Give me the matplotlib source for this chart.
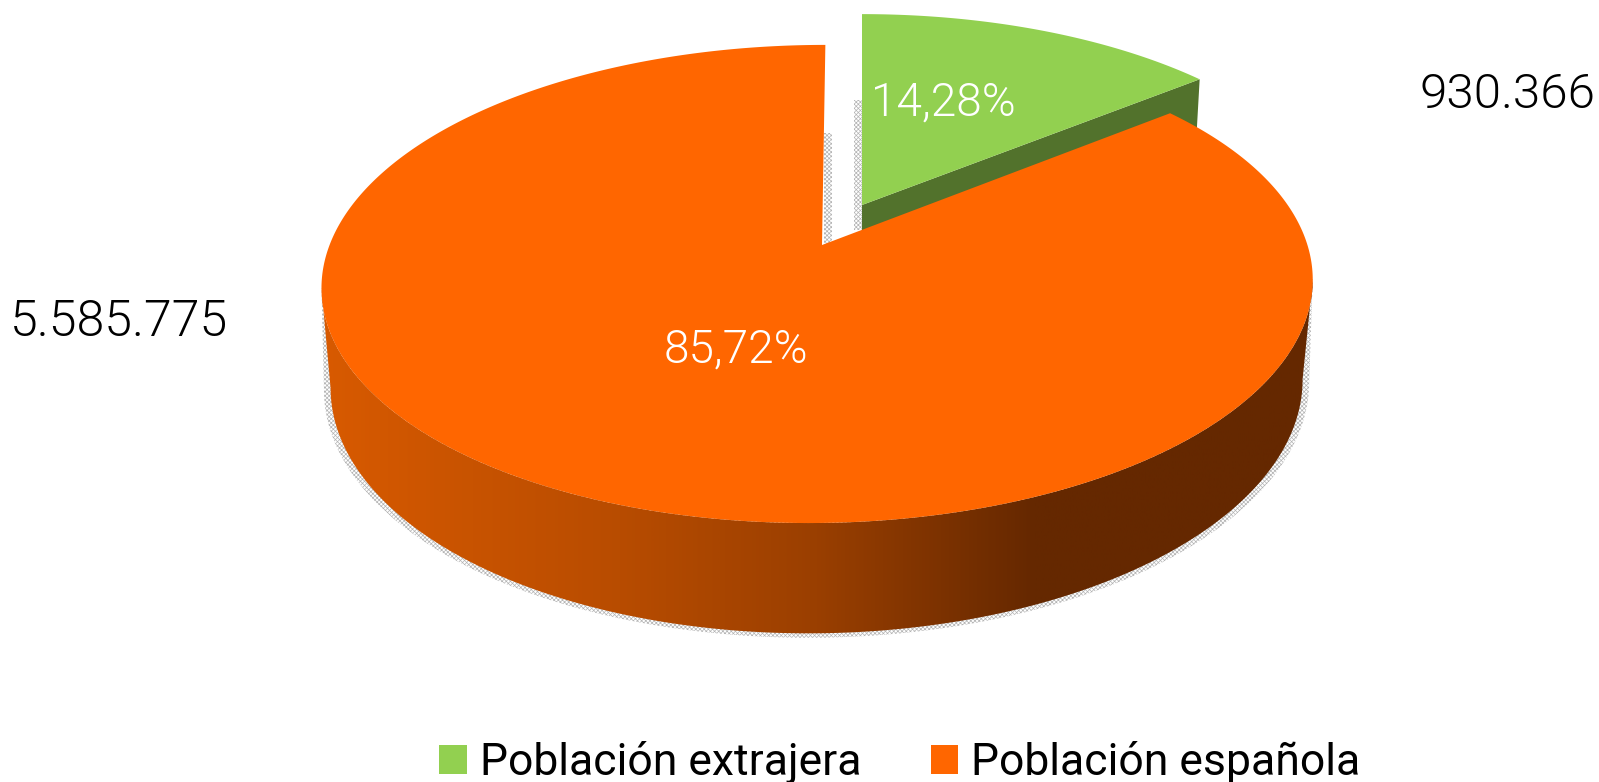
import numpy as np
import matplotlib
matplotlib.use('Agg')
import matplotlib.pyplot as plt
from matplotlib.colors import LinearSegmentedColormap
from matplotlib.patches import Patch, Polygon

categorias = ['Población extrajera', 'Población española']
poblacion = [930366, 5585775]
etiquetas_valor = ['930.366', '5.585.775']
etiquetas_pct = ['14,28%', '85,72%']

VERDE = '#92D050'
VERDE_OSC = '#52722C'
NARANJA = '#FF6600'
SOMBRA = '#b4b4b4'

plt.rcParams['font.family'] = ['Roboto', 'Open Sans', 'DejaVu Sans']
plt.rcParams['hatch.linewidth'] = 0.5


def anillo(theta, cx, cy, A, B, k=0.163, s=1.0):
    # circulo en perspectiva, theta en grados desde arriba en sentido horario
    t = np.radians(theta)
    u, v = np.sin(t), np.cos(t)
    w = 1 + k * v
    X, Y = A * u / w, B * v / w
    return np.column_stack([cx + X + s * 0.01 * Y, cy - Y - s * 0.006 * X])


def frente(p):
    i0, i1 = np.argmax(p[:, 0]), np.argmin(p[:, 0])
    return p[i0:i1 + 1]


fig = plt.figure(figsize=(15.99, 7.82), dpi=100)
ax = fig.add_axes([0, 0, 1, 1])

frac = np.array(poblacion) / sum(poblacion)
inicio = 0.8
corte = 360 * frac[0]

t_anillo = np.linspace(0, 360, 1441)
sup = anillo(t_anillo, 817.5, 245, 489, 232.7)
inf = anillo(t_anillo, 817, 343, 479.5, 243)

# sombra punteada alrededor de la base
borde_sombra = np.vstack([frente(anillo(t_anillo, 817, 345, 486, 245)), frente(sup)[-1], frente(sup)[0]])
ax.add_patch(Polygon(borde_sombra, fc='white', ec=SOMBRA, hatch='xxxxxxxx', lw=0))
ax.fill_betweenx([100, 230], 854, 862, facecolor='white', edgecolor=SOMBRA, hatch='xxxxxxxx', lw=0)
ax.fill_betweenx([133, 245], 824, 832, facecolor='white', edgecolor=SOMBRA, hatch='xxxxxxxx', lw=0)

# sector verde: pared y cara superior
t_verde = np.linspace(0, corte, 80)
arco_v = anillo(t_verde, 862, 205, 476, 222, s=0)
apice_v = np.array([862, 205])
pared_v = np.array([apice_v, arco_v[-1], arco_v[-1] + [-4, 70], apice_v + [0, 50]])
ax.add_patch(Polygon(pared_v, fc=VERDE_OSC, ec='none'))
ax.add_patch(Polygon(np.vstack([apice_v, arco_v]), fc=VERDE, ec='none'))

# pared naranja con degradado horizontal
pared = Polygon(np.vstack([frente(sup), frente(inf)[::-1]]), fc='none', ec='none')
ax.add_patch(pared)
cmap = LinearSegmentedColormap.from_list('pared', [(0, '#D85A00'), (0.3, '#B84C00'),
                                                   (0.5, '#9A3F00'), (0.72, '#652800'),
                                                   (1, '#652800')])
img = ax.imshow(np.linspace(0, 1, 512).reshape(1, -1), cmap=cmap, aspect='auto',
                extent=(322, 1313, 640, 240), zorder=2)
img.set_clip_path(pared)

# cara superior naranja
t_nar = np.linspace(inicio + corte, inicio + 360, 600)
arco_n = anillo(t_nar, 817.5, 245, 489, 232.7)
ax.add_patch(Polygon(np.vstack([[822, 245], arco_n]), fc=NARANJA, ec='none', zorder=3))

# textos
ax.text(1596, 95, etiquetas_valor[0], fontsize=35.5, fontweight=300, ha='right', va='center', color='black', zorder=4)
ax.text(10, 322, etiquetas_valor[1], fontsize=36, fontweight=300, ha='left', va='center', color='black', zorder=4)
ax.text(943, 103, etiquetas_pct[0], fontsize=33, fontweight=300, ha='center', va='center', color='white', zorder=4)
ax.text(736, 350, etiquetas_pct[1], fontsize=33, fontweight=300, ha='center', va='center', color='white', zorder=4)

handles = [Patch(fc=VERDE, ec='none'), Patch(fc=NARANJA, ec='none')]
ax.legend(handles, categorias, ncol=2, frameon=False, fontsize=32, loc='center',
          bbox_to_anchor=(900 / 1599, 1 - 763 / 782), handlelength=0.62, handleheight=0.62,
          handletextpad=0.3, columnspacing=1.55, borderpad=0, borderaxespad=0)

ax.set_xlim(0, 1599)
ax.set_ylim(782, 0)
ax.axis('off')

plt.savefig('out.png', dpi=100)
